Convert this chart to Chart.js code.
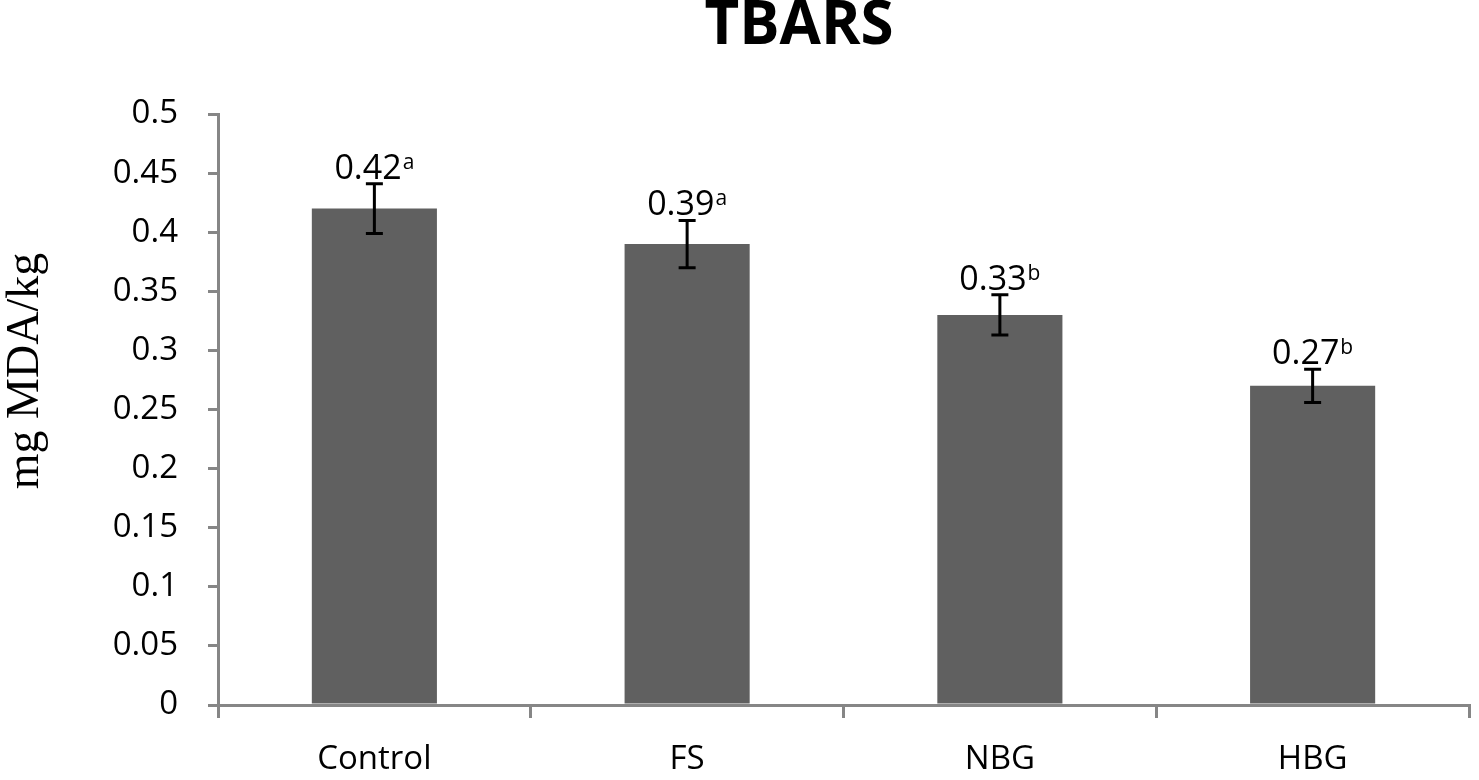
<!DOCTYPE html>
<html>
<head>
<meta charset="utf-8">
<script src="https://cdn.jsdelivr.net/npm/chart.js@4"></script>
<style>
  html, body { margin: 0; padding: 0; background: #fff; }
  #c { display: block; }
</style>
</head>
<body>
<canvas id="c" width="1479" height="780"></canvas>
<script>
const chartTitle = 'TBARS';
const yAxisLabel = 'mg MDA/kg';
const categories = ['Control', 'FS', 'NBG', 'HBG'];
const means = [0.42, 0.39, 0.33, 0.27];
const errors = [0.021, 0.02, 0.017, 0.014];
const valueLabels = ['0.42', '0.39', '0.33', '0.27'];
const superscripts = ['a', 'a', 'b', 'b'];
const yTickLabels = ['0', '0.05', '0.1', '0.15', '0.2', '0.25', '0.3', '0.35', '0.4', '0.45', '0.5'];

const AXIS_GRAY = '#868686';
const FONT = "'Open Sans', 'DejaVu Sans', sans-serif";

const annotatePlugin = {
  id: 'annotate',
  afterDatasetsDraw(chart) {
    const ctx = chart.ctx;
    const meta = chart.getDatasetMeta(0);
    const ys = chart.scales.y;
    ctx.save();
    meta.data.forEach((bar, i) => {
      const x = bar.x;
      const yTop = ys.getPixelForValue(means[i] + errors[i]);
      const yBot = ys.getPixelForValue(means[i] - errors[i]);
      // error bar
      ctx.strokeStyle = '#000';
      ctx.lineWidth = 3;
      ctx.beginPath();
      ctx.moveTo(x, yTop); ctx.lineTo(x, yBot);
      ctx.moveTo(x - 8.5, yTop); ctx.lineTo(x + 8.5, yTop);
      ctx.moveTo(x - 8.5, yBot); ctx.lineTo(x + 8.5, yBot);
      ctx.stroke();
      // label with superscript
      const mainFont = '34px ' + FONT;
      const supFont = '21px ' + FONT;
      ctx.font = mainFont;
      const w1 = ctx.measureText(valueLabels[i]).width;
      ctx.font = supFont;
      const w2 = ctx.measureText(superscripts[i]).width;
      const total = w1 + 1 + w2;
      const startX = x - total / 2;
      const baseY = yTop - 5;
      ctx.fillStyle = '#000';
      ctx.textAlign = 'left';
      ctx.textBaseline = 'alphabetic';
      ctx.font = mainFont;
      ctx.fillText(valueLabels[i], startX, baseY);
      ctx.font = supFont;
      ctx.fillText(superscripts[i], startX + w1 + 1, baseY - 10);
    });
    ctx.restore();
  },
  afterDraw(chart) {
    const ctx = chart.ctx;
    ctx.save();
    // title
    ctx.font = "bold 60px " + FONT;
    ctx.fillStyle = '#000';
    ctx.textAlign = 'center';
    ctx.textBaseline = 'alphabetic';
    ctx.fillText(chartTitle, 799, 44);
    // y-axis label
    ctx.translate(26, 371);
    ctx.rotate(-Math.PI / 2);
    ctx.font = "46px 'Liberation Serif', 'Times New Roman', serif";
    ctx.textAlign = 'center';
    ctx.textBaseline = 'middle';
    ctx.fillText(yAxisLabel, 0, 0);
    ctx.restore();
  }
};

new Chart(document.getElementById('c'), {
  type: 'bar',
  data: {
    labels: categories,
    datasets: [{
      data: means,
      backgroundColor: '#606060',
      borderWidth: 0,
      categoryPercentage: 1.0,
      barPercentage: 0.4
    }]
  },
  options: {
    responsive: false,
    animation: false,
    layout: { padding: { left: 0, right: 10, top: 114, bottom: 0 } },
    plugins: {
      legend: { display: false },
      tooltip: { enabled: false },
      title: { display: false }
    },
    scales: {
      x: {
        offset: true,
        grid: {
          display: true,
          offset: true,
          drawOnChartArea: false,
          drawTicks: true,
          tickLength: 13,
          color: AXIS_GRAY,
          lineWidth: 3
        },
        border: { display: true, color: AXIS_GRAY, width: 3 },
        ticks: {
          color: '#000',
          font: { family: FONT, size: 33 },
          padding: 22,
          maxRotation: 0
        },
        afterFit(scale) { scale.height = 75; }
      },
      y: {
        min: 0,
        max: 0.5,
        grid: {
          display: true,
          drawOnChartArea: false,
          drawTicks: true,
          tickLength: 10,
          color: AXIS_GRAY,
          lineWidth: 3
        },
        border: { display: true, color: AXIS_GRAY, width: 3 },
        ticks: {
          stepSize: 0.05,
          color: '#000',
          font: { family: FONT, size: 33 },
          padding: 30,
          callback: (v, i) => yTickLabels[i]
        },
        afterFit(scale) { scale.width = 218; }
      }
    }
  },
  plugins: [annotatePlugin]
});
</script>
</body>
</html>
